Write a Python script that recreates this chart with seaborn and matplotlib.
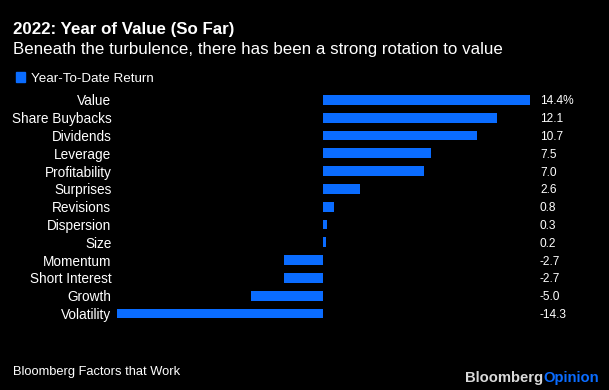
import matplotlib
matplotlib.use('Agg')
import matplotlib.pyplot as plt
import matplotlib.transforms as mtransforms
import seaborn as sns
import pandas as pd

# data
factors = ['Value', 'Share Buybacks', 'Dividends', 'Leverage', 'Profitability',
           'Surprises', 'Revisions', 'Dispersion', 'Size', 'Momentum',
           'Short Interest', 'Growth', 'Volatility']
ytd_return = [14.4, 12.1, 10.7, 7.5, 7.0, 2.6, 0.8, 0.3, 0.2, -2.7, -2.7, -5.0, -14.3]
value_labels = ['14.4%', '12.1', '10.7', '7.5', '7.0', '2.6', '0.8', '0.3', '0.2',
                '-2.7', '-2.7', '-5.0', '-14.3']

df = pd.DataFrame({'factor': factors, 'ret': ytd_return})

sns.set_style('dark')
plt.rcParams['font.family'] = ['Liberation Sans', 'DejaVu Sans']

blue = '#0a6cff'
W, H = 609, 390
fig = plt.figure(figsize=(W / 100, H / 100), dpi=100, facecolor='black')
ax = fig.add_axes([117 / W, 1 - 322.4 / H, (530 - 117) / W, (322.4 - 91.1) / H])
ax.set_facecolor('black')

sns.barplot(data=df, x='ret', y='factor', orient='h', color=blue,
            saturation=1, width=0.55, linewidth=0, edgecolor='none', ax=ax)
ax.set_xlim(-14.3, 14.4)
ax.set_ylim(12.5, -0.5)
ax.set_xticks([])
ax.set_xlabel('')
ax.set_ylabel('')
ax.grid(False)
for s in ax.spines.values():
    s.set_visible(False)
ax.tick_params(axis='y', length=0, pad=4, labelsize=9.8, labelcolor='white')

# value column on the right
trans = mtransforms.blended_transform_factory(fig.transFigure, ax.transData)
for i, lab in enumerate(value_labels):
    ax.text(540 / W, i, lab, transform=trans, color='white',
            fontsize=8.6, va='center_baseline', ha='left')

fig.text(13 / W, 1 - 34 / H, '2022: Year of Value (So Far)', color='white',
         fontsize=12.2, fontweight='bold', va='baseline')
fig.text(13 / W, 1 - 54 / H, 'Beneath the turbulence, there has been a strong rotation to value',
         color='white', fontsize=12.2, va='baseline')
fig.patches.append(plt.Rectangle((16 / W, 1 - 82 / H), 9 / W, 10 / H,
                                 transform=fig.transFigure, color=blue))
fig.text(31 / W, 1 - 81.5 / H, 'Year-To-Date Return', color='white', fontsize=9.6,
         va='baseline')

fig.text(13 / W, 1 - 375 / H, 'Bloomberg Factors that Work', color='white',
         fontsize=9.3, va='baseline')
t1 = fig.text(465 / W, 1 - 382 / H, 'Bloomberg', color='#d9d9d9', fontsize=10.7,
              fontweight='bold', va='baseline')
fig.canvas.draw()
bb = t1.get_window_extent()
fig.text(bb.x1 / W, 1 - 382 / H, 'Opinion', color=blue, fontsize=10.7,
         fontweight='bold', va='baseline')

fig.savefig('out.png', dpi=100, facecolor='black')
